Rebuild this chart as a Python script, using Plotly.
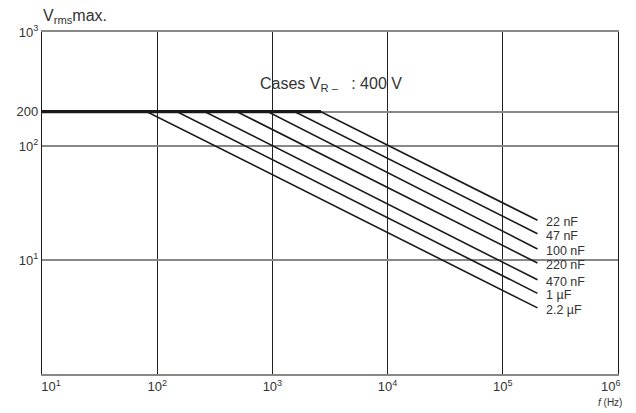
import math
import plotly.graph_objects as go

# Data
series_names = ["22 nF", "47 nF", "100 nF", "220 nF", "470 nF", "1 µF", "2.2 µF"]
break_freqs = [2640, 1570, 916, 493, 260, 149, 81.5]      # Hz, where line leaves 200 V
end_values = [22.3, 17.0, 12.5, 9.4, 6.7, 5.1, 3.8]       # Vrms at end frequency
plateau_v = 200
start_freq = 10
end_freq = 2e5

x_tickvals = [1e1, 1e2, 1e3, 1e4, 1e5, 1e6]
x_ticktext = ["&nbsp;&nbsp;&nbsp;&nbsp;&nbsp;10<sup>1</sup>", "10<sup>2</sup>", "10<sup>3</sup>",
              "10<sup>4</sup>", "10<sup>5</sup>", "10<sup>6</sup>&nbsp;&nbsp;&nbsp;&nbsp;"]
y_tickvals = [10, 100, 200, 1000]
y_ticktext = ["10<sup>1</sup>", "10<sup>2</sup>", "200", "10<sup>3</sup>"]

FONT = "Liberation Sans"
TXT = "#333333"

fig = go.Figure()

for name, fb, ve in zip(series_names, break_freqs, end_values):
    fig.add_trace(go.Scatter(
        x=[start_freq, fb, end_freq], y=[plateau_v, plateau_v, ve],
        mode="lines", line=dict(color="#1a1a1a", width=1.6),
        name=name, showlegend=False, hoverinfo="name"))

# thicker common plateau
fig.add_trace(go.Scatter(
    x=[start_freq, max(break_freqs)], y=[plateau_v, plateau_v],
    mode="lines", line=dict(color="#1a1a1a", width=3.2),
    showlegend=False, hoverinfo="skip"))

for name, ve in zip(series_names, end_values):
    fig.add_annotation(x=math.log10(end_freq), y=math.log10(ve), xref="x", yref="y",
                       text=name, showarrow=False, xanchor="left", yanchor="middle",
                       xshift=7, yshift=-2, font=dict(family=FONT, size=12.5, color=TXT))

fig.add_annotation(x=0.502, y=0.88, xref="paper", yref="paper",
                   text="Cases V<sub>R –</sub>&nbsp;&nbsp;&nbsp;: 400 V", showarrow=False,
                   font=dict(family=FONT, size=16, color=TXT))
fig.add_annotation(x=0, y=1.0, xref="paper", yref="paper", xanchor="left", yanchor="bottom",
                   xshift=-1, yshift=4,
                   text="V<sub>rms</sub>max.", showarrow=False,
                   font=dict(family=FONT, size=16, color=TXT))
fig.add_annotation(x=1, y=0, xref="paper", yref="paper", xanchor="right", yanchor="top",
                   yshift=-21, xshift=6,
                   text="<i>f</i> (Hz)", showarrow=False,
                   font=dict(family=FONT, size=10, color=TXT))

fig.update_xaxes(type="log", range=[1, 6], tickvals=x_tickvals, ticktext=x_ticktext,
                 showgrid=True, gridcolor="#222222", gridwidth=1,
                 showline=True, linecolor="#888888", linewidth=1.5, mirror=True,
                 ticks="", zeroline=False, automargin=False,
                 tickfont=dict(family=FONT, size=13, color=TXT))
fig.update_yaxes(type="log", range=[0, 3], tickvals=y_tickvals, ticktext=y_ticktext,
                 showgrid=True, gridcolor="#888888", gridwidth=1.5,
                 showline=True, linecolor="#1a1a1a", linewidth=1.2, mirror=True,
                 ticks="", zeroline=False, automargin=False,
                 tickfont=dict(family=FONT, size=13, color=TXT))

fig.update_layout(width=628, height=405,
                  margin=dict(l=34, r=18, t=24, b=39, autoexpand=False),
                  plot_bgcolor="white", paper_bgcolor="white", showlegend=False)

fig.write_html("out.html")
